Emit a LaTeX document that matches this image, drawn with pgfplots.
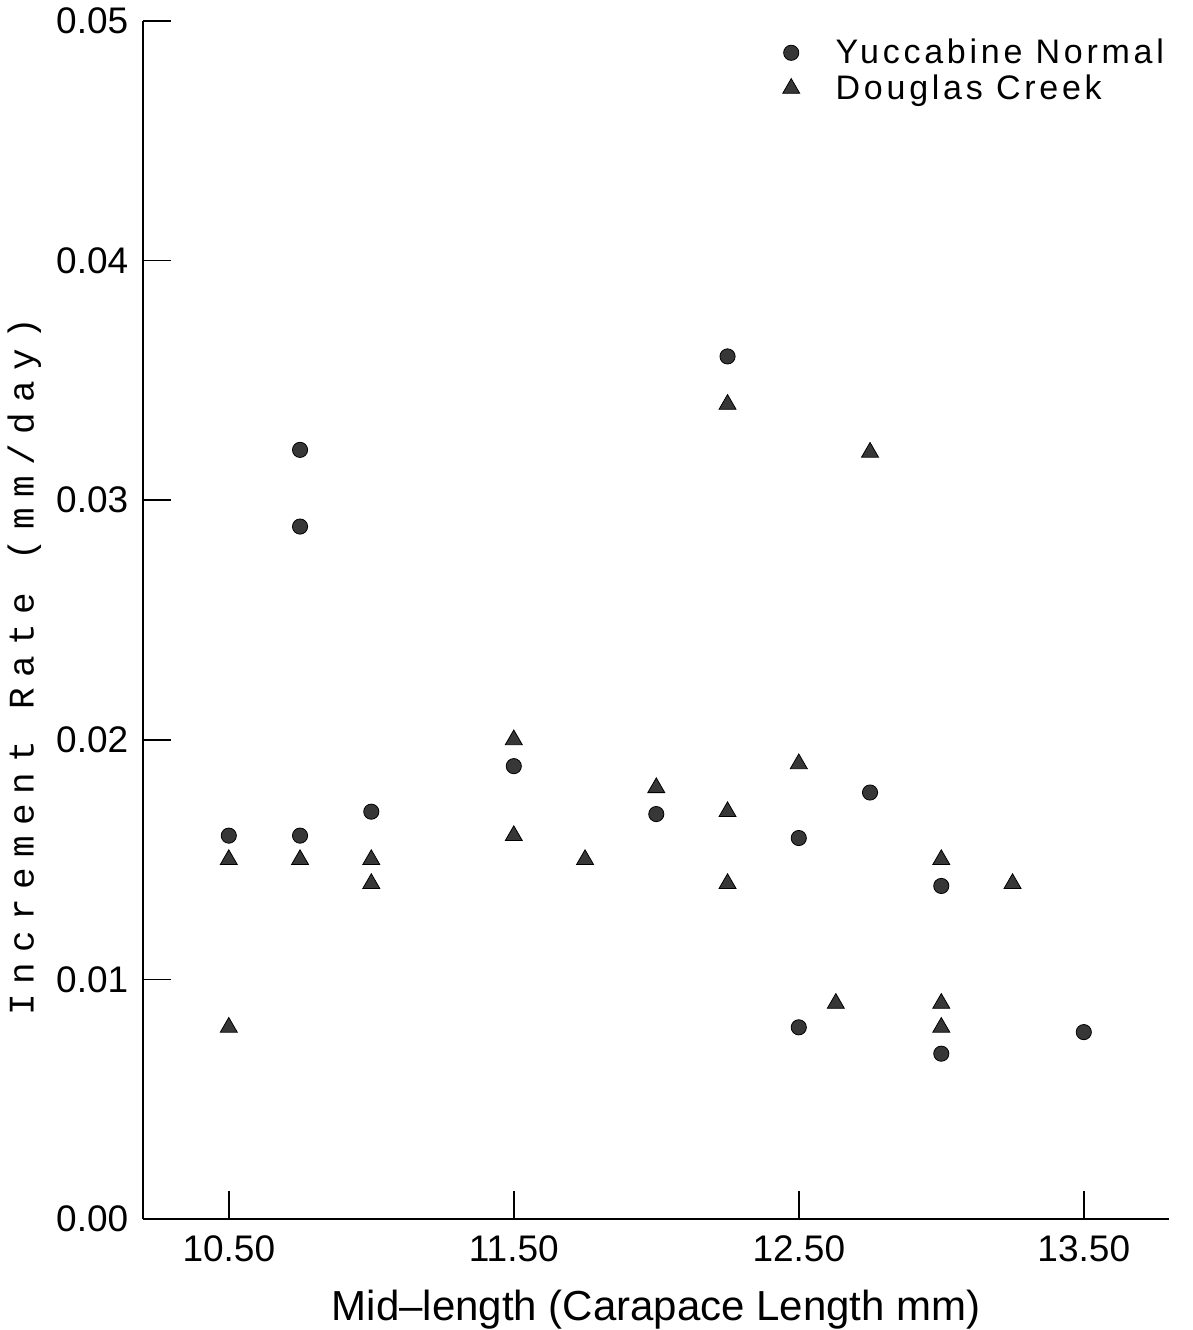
\documentclass[border=0pt]{standalone}
\usepackage{fontspec}
\usepackage{pgfplots}
\pgfplotsset{compat=1.18}
\setmainfont{Liberation Sans}
\newfontfamily\legfont[LetterSpace=11]{Liberation Sans}
\newfontfamily\ylabfont[LetterSpace=28]{Liberation Mono}
\definecolor{markgray}{RGB}{55,55,55}
\begin{document}
\begin{tikzpicture}
\begin{axis}[
  scale only axis,
  width=513pt, height=599pt,
  xmin=10.2, xmax=13.8,
  ymin=0, ymax=0.05,
  axis x line*=bottom,
  axis y line*=left,
  axis line style={line width=0.9pt, black},
  tick align=inside,
  major tick length=14pt,
  tick style={line width=0.8pt, black},
  xtick={10.5,11.5,12.5,13.5},
  ytick={0,0.01,0.02,0.03,0.04,0.05},
  scaled y ticks=false,
  scaled x ticks=false,
  xticklabel style={yshift=-5pt, font=\fontsize{18.5}{22}\selectfont, /pgf/number format/.cd, fixed, fixed zerofill, precision=2, assume math mode=true},
  yticklabel style={xshift=-4pt, font=\fontsize{18.5}{22}\selectfont, /pgf/number format/.cd, fixed, fixed zerofill, precision=2, assume math mode=true},
  xlabel={Mid\textendash length (Carapace Length mm)},
  xlabel style={yshift=-7pt, font=\fontsize{21}{24}\selectfont},
  ylabel={Increment Rate (mm/day)},
  every axis y label/.style={at={(axis description cs:-0.116,0.461)}, rotate=90, anchor=center, font=\fontsize{18}{21}\ylabfont},
  legend style={draw=none, fill=none, at={(axis description cs:0.617,0.992)}, anchor=north west, font=\fontsize{17}{20}\legfont, row sep=0pt,
    /tikz/every odd column/.append style={column sep=16pt}},
  legend cell align=left,
]
\addplot[only marks, mark=*, mark size=3.8pt, mark options={fill=markgray, draw=black, line width=0.4pt}] coordinates {
 (10.5,0.016) (10.75,0.0321) (10.75,0.0289) (10.75,0.016) (11.0,0.017)
 (11.5,0.0189) (12.0,0.0169) (12.25,0.036) (12.5,0.0159) (12.5,0.008)
 (12.75,0.0178) (13.0,0.0139) (13.0,0.0069) (13.5,0.0078)
};
\addlegendentry{Yuccabine Normal}
\addplot[only marks, mark=triangle*, mark size=4.9pt, mark options={fill=markgray, draw=black, line width=0.4pt}] coordinates {
 (10.5,0.015) (10.5,0.008) (10.75,0.015) (11.0,0.015) (11.0,0.014)
 (11.5,0.020) (11.5,0.016) (11.75,0.015) (12.0,0.018) (12.25,0.034)
 (12.25,0.017) (12.25,0.014) (12.5,0.019) (12.63,0.009) (12.75,0.032)
 (13.0,0.015) (13.0,0.009) (13.0,0.008) (13.25,0.014)
};
\addlegendentry{Douglas Creek}
\end{axis}
\pgfresetboundingbox
\path[use as bounding box] (-71.65pt,-55.5pt) rectangle (524.85pt,609.5pt);
\end{tikzpicture}
\end{document}
